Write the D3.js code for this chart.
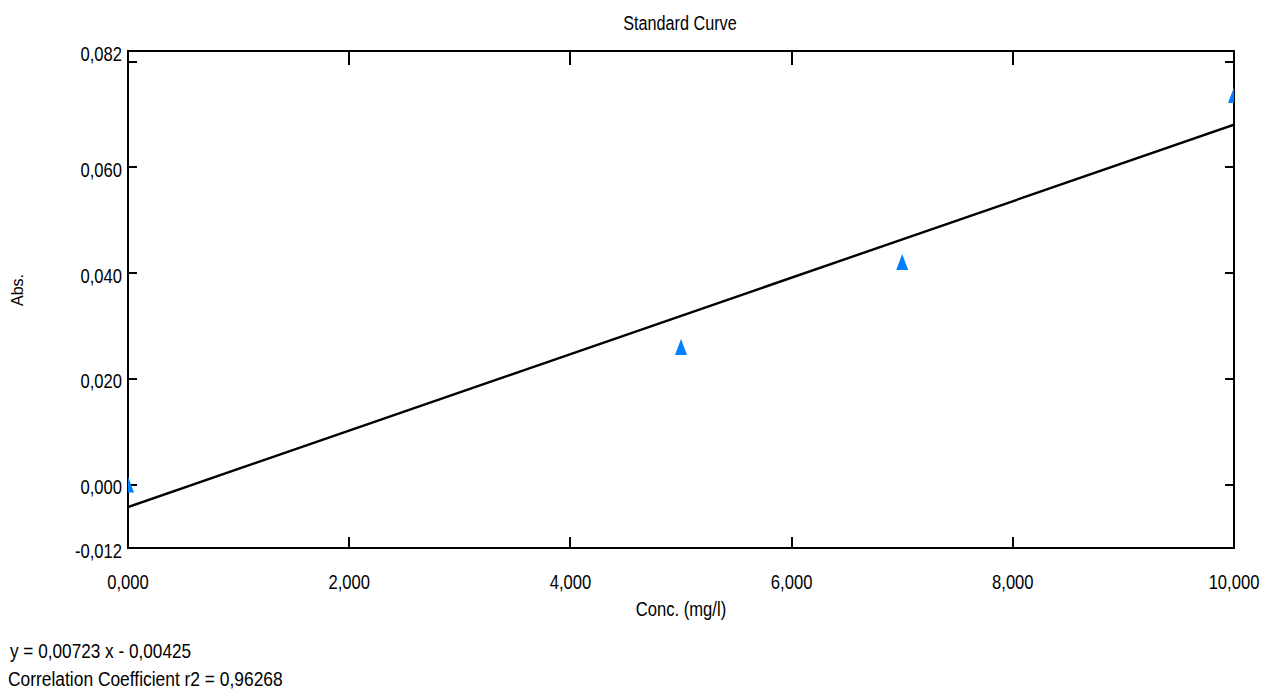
<!DOCTYPE html>
<html>
<head>
<meta charset="utf-8">
<script src="https://cdn.jsdelivr.net/npm/d3@7"></script>
<style>
  html, body { margin: 0; padding: 0; background: #fff; }
  svg text { font-family: "Liberation Sans", Arial, sans-serif; fill: #000; }
</style>
</head>
<body>
<svg id="chart" width="1275" height="691"></svg>
<script>
// ---- data ----
const concentrations = [0, 5, 7, 10];
const absorbances = [0.0000, 0.0260, 0.0421, 0.0737];
const fitSlope = 0.00723;
const fitIntercept = -0.00425;
const xTickValues = [0, 2, 4, 6, 8, 10];
const yTickValues = [0.00, 0.02, 0.04, 0.06, 0.08];
const yLabelValues = [-0.012, 0.000, 0.020, 0.040, 0.060, 0.082];
const titleText = "Standard Curve";
const xTitle = "Conc. (mg/l)";
const yTitle = "Abs.";
const equationText = "y = 0,00723 x - 0,00425";
const correlationText = "Correlation Coefficient r2 = 0,96268";

const svg = d3.select("#chart");
const m = { left: 128, right: 1234, top: 51, bottom: 548 };
const x = d3.scaleLinear().domain([0, 10]).range([m.left, m.right]);
const y = d3.scaleLinear().domain([-0.012, 0.082]).range([m.bottom, m.top]);
const fmt = v => d3.format(".3f")(v).replace(".", ",").replace("−", "-");
const FS = 20;
const SX = 0.83;

// condensed text helper (horizontal squeeze to mimic a narrow face)
function narrowText(g, tx, ty, str, anchor, sx, fs) {
  return g.append("text")
    .attr("transform", `translate(${tx},${ty}) scale(${sx},1)`)
    .attr("text-anchor", anchor || "start")
    .style("font-size", (fs || FS) + "px")
    .text(str);
}

svg.append("defs").append("clipPath").attr("id", "plotclip")
  .append("rect").attr("x", m.left).attr("y", m.top)
  .attr("width", m.right - m.left).attr("height", m.bottom - m.top);

// title
narrowText(svg, 680, 30, titleText, "middle", 0.81);

// inward ticks
const ticksG = svg.append("g").attr("stroke", "#000").attr("stroke-width", 2);
const xt = xTickValues.filter(v => v > 0 && v < 10);
ticksG.selectAll(".tl").data(yTickValues).join("line")
  .attr("x1", m.left).attr("x2", m.left + 9)
  .attr("y1", d => Math.round(y(d))).attr("y2", d => Math.round(y(d)));
ticksG.selectAll(".tr").data(yTickValues).join("line")
  .attr("x1", m.right).attr("x2", m.right - 9)
  .attr("y1", d => Math.round(y(d))).attr("y2", d => Math.round(y(d)));
ticksG.selectAll(".tt").data(xt).join("line")
  .attr("x1", d => Math.round(x(d))).attr("x2", d => Math.round(x(d)))
  .attr("y1", m.top).attr("y2", m.top + 14);
ticksG.selectAll(".tb").data(xt).join("line")
  .attr("x1", d => Math.round(x(d))).attr("x2", d => Math.round(x(d)))
  .attr("y1", m.bottom).attr("y2", m.bottom - 11);

// frame
svg.append("rect").attr("x", m.left).attr("y", m.top)
  .attr("width", m.right - m.left).attr("height", m.bottom - m.top)
  .attr("fill", "none").attr("stroke", "#000").attr("stroke-width", 2);

// y labels
const yl = svg.append("g");
yLabelValues.forEach(v => narrowText(yl, 122, y(v) + 9.5, fmt(v), "end", SX));

// x labels
const xl = svg.append("g");
xTickValues.forEach(v => narrowText(xl, x(v), 589, fmt(v), "middle", SX));

// axis titles
narrowText(svg, 681, 616, xTitle, "middle", SX);
svg.append("text").attr("transform", "translate(23,290) rotate(-90)")
  .attr("text-anchor", "middle")
  .style("font-size", "16px").text(yTitle);

// fit line
const plot = svg.append("g").attr("clip-path", "url(#plotclip)");
const fitLine = d3.line().x(d => x(d)).y(d => y(fitSlope * d + fitIntercept));
plot.append("path").datum([0, 10]).attr("d", fitLine)
  .attr("fill", "none").attr("stroke", "#000").attr("stroke-width", 2.4);

// points
plot.selectAll(".pt").data(concentrations.map((c, i) => [c, absorbances[i]])).join("path")
  .attr("d", "M0,-8L6,8L-6,8Z")
  .attr("transform", d => `translate(${x(d[0])},${y(d[1])})`)
  .attr("fill", "#0080FF");

// footer texts
narrowText(svg, 10, 658, equationText, "start", 0.86);
narrowText(svg, 8, 686, correlationText, "start", 0.87);
</script>
</body>
</html>
